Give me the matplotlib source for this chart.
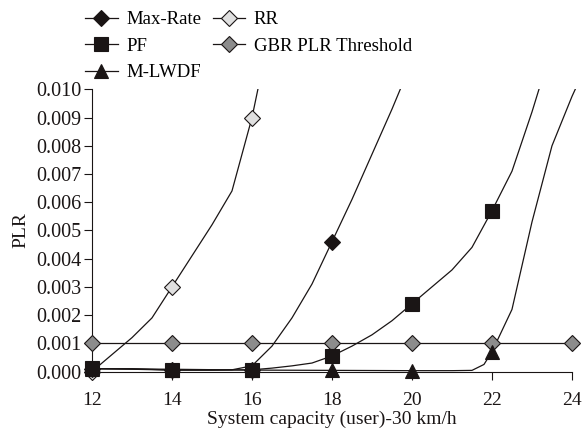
import matplotlib
matplotlib.use("Agg")
import matplotlib.pyplot as plt
from matplotlib.lines import Line2D
from matplotlib.patches import Rectangle

plt.rcParams["font.family"] = ["Liberation Serif", "DejaVu Serif"]
plt.rcParams["font.size"] = 14

# curves (half-unit steps where the curve bends)
rr_x = [12, 12.5, 13, 13.5, 14, 14.5, 15, 15.5, 16, 16.5]
rr_y = [0.0, 0.0006, 0.0012, 0.0019, 0.0030, 0.0041, 0.0052, 0.0064, 0.0090, 0.0124]

maxrate_x = [12, 13, 14, 15, 15.5, 16, 16.5, 17, 17.5, 18, 18.5, 19, 19.5, 20]
maxrate_y = [0.0001, 0.0001, 0.00005, 0.00005, 0.00006, 0.0002, 0.0009, 0.0019,
             0.0031, 0.0046, 0.0061, 0.0077, 0.0093, 0.0110]

pf_x = [12, 13, 14, 15, 16, 16.5, 17, 17.5, 18, 18.5, 19, 19.5, 20, 20.5, 21,
        21.5, 22, 22.5, 23, 23.5]
pf_y = [0.0001, 0.00008, 0.00005, 0.00005, 0.00006, 0.00012, 0.0002, 0.0003,
        0.00055, 0.0009, 0.0013, 0.0018, 0.0024, 0.0030, 0.0036, 0.0044,
        0.0057, 0.0071, 0.0092, 0.0115]

mlwdf_x = [12, 14, 16, 18, 20, 21, 21.5, 21.8, 22, 22.5, 23, 23.5, 24, 24.5]
mlwdf_y = [0.0001, 0.00008, 0.00005, 0.00004, 0.00003, 0.00003, 0.00004,
           0.00025, 0.0007, 0.0022, 0.0053, 0.0080, 0.00975, 0.0113]

gbr_x = [12, 14, 16, 18, 20, 22, 24]
gbr_y = [0.001, 0.001, 0.001, 0.001, 0.001, 0.001, 0.001]

# marker points (every 2 users)
rr_mx = [12, 14, 16]
rr_my = [0.0, 0.0030, 0.0090]
maxrate_mx = [12, 14, 16, 18]
maxrate_my = [0.0001, 0.00005, 0.00005, 0.0046]
pf_mx = [12, 14, 16, 18, 20, 22]
pf_my = [0.00011, 0.00005, 0.00005, 0.00055, 0.0024, 0.0057]
mlwdf_mx = [12, 14, 16, 18, 20, 22]
mlwdf_my = [0.0001, 0.00005, 0.00005, 0.00004, 0.00003, 0.0007]

xticks = [12, 14, 16, 18, 20, 22, 24]
yticks = [0.000, 0.001, 0.002, 0.003, 0.004, 0.005, 0.006, 0.007, 0.008, 0.009, 0.010]

fig = plt.figure(figsize=(5.87, 4.34), dpi=100)
ax = fig.add_axes([0.1567, 0.144, 0.8177, 0.650])

clip = Rectangle((-0.02, -0.05), 1.1, 1.05, transform=ax.transAxes)

series = [
    # name, line x, line y, marker x, marker y, marker, size, face
    ("GBR PLR Threshold", gbr_x, gbr_y, gbr_x, gbr_y, "D", 8.6, "#8c8c8c"),
    ("RR", rr_x, rr_y, rr_mx, rr_my, "D", 8.6, "#e0e0e0"),
    ("Max-Rate", maxrate_x, maxrate_y, maxrate_mx, maxrate_my, "D", 8.6, "#1a1515"),
    ("PF", pf_x, pf_y, pf_mx, pf_my, "s", 10.5, "#1a1515"),
    ("M-LWDF", mlwdf_x, mlwdf_y, mlwdf_mx, mlwdf_my, "^", 10.5, "#1a1515"),
]

handles = {}
for z, (name, lx, ly, mx, my, mk, ms, fc) in enumerate(series):
    ln, = ax.plot(lx, ly, color="#1a1515", linewidth=0.9, zorder=2 + z)
    ln.set_clip_path(clip)
    ax.plot(mx, my, linestyle="none", marker=mk, markersize=ms,
            markerfacecolor=fc, markeredgecolor="#1a1515", markeredgewidth=0.8,
            clip_on=False, zorder=10 + z)
    handles[name] = Line2D([], [], color="#1a1515", linewidth=0.9, marker=mk,
                           markersize=ms, markerfacecolor=fc,
                           markeredgecolor="#1a1515", markeredgewidth=0.8)

ax.set_xlim(12, 24)
ax.set_ylim(0, 0.010)
ax.set_xticks(xticks)
ax.set_yticks(yticks)
ax.set_yticklabels([f"{v:.3f}" for v in yticks])
ax.tick_params(direction="out", length=6, width=0.8, colors="#1a1515")
ax.tick_params(axis="x", pad=8.5)
ax.tick_params(axis="y", pad=1.5, labelsize=14.5)
for s in ["top", "right"]:
    ax.spines[s].set_visible(False)
for s in ["left", "bottom"]:
    ax.spines[s].set_linewidth(0.8)
    ax.spines[s].set_color("#1a1515")

ax.set_xlabel("System capacity (user)-30 km/h", labelpad=1.5, color="#1a1515")
ax.set_ylabel("PLR", color="#1a1515")
ax.yaxis.set_label_coords(-0.13, 0.5)

order = ["Max-Rate", "PF", "M-LWDF", "RR", "GBR PLR Threshold"]
fig.legend([handles[n] for n in order], order, loc="upper left",
           bbox_to_anchor=(85 / 587, 1 - 11 / 434), ncol=2, frameon=False,
           borderpad=0, borderaxespad=0, handlelength=1.75, handletextpad=0.45,
           columnspacing=0.6, labelspacing=0.5, fontsize=13.5)

fig.savefig("out.png", dpi=100)
